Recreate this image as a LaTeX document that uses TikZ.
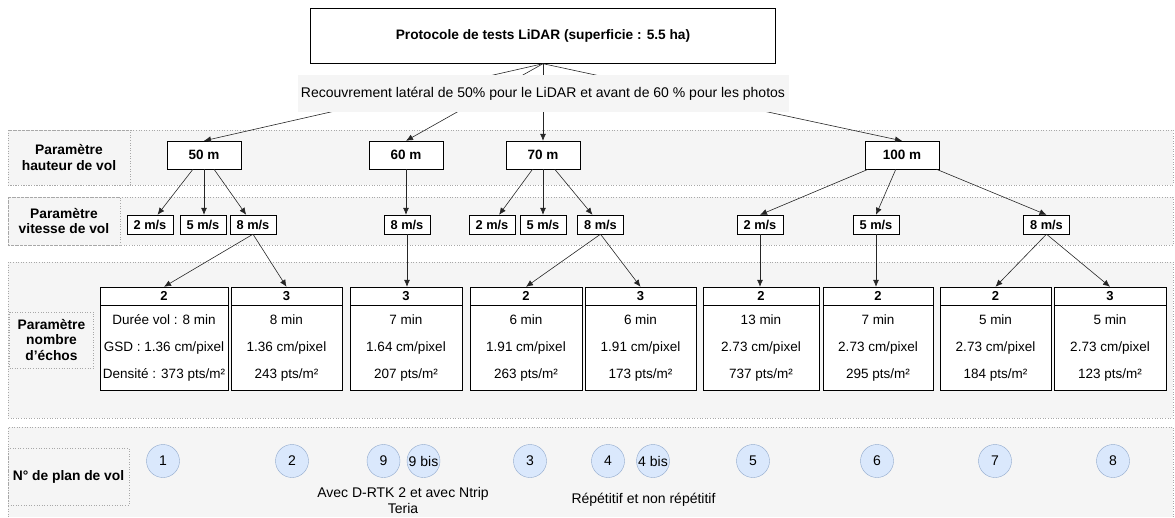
\documentclass[tikz,border=0pt]{standalone}
\usepackage{fontspec}
\setmainfont{Liberation Sans}
\usetikzlibrary{arrows.meta,positioning}

\definecolor{lanegray}{HTML}{F5F5F5}
\definecolor{lanedot}{HTML}{A8A8A8}
\definecolor{planfill}{HTML}{DAE8FC}
\definecolor{plandraw}{HTML}{8FA8CC}

\tikzset{
	lane/.style={fill=lanegray, draw=lanedot, dotted, line width=0.6pt},
	lanelabel/.style={draw=lanedot, dotted, line width=0.6pt, align=center, inner sep=0pt,
		font=\fontsize{13.8}{15.5}\selectfont\bfseries},
	hbox/.style={draw, fill=white, minimum width=74pt, minimum height=28pt, inner sep=0pt,
		font=\fontsize{13.5}{15}\selectfont\bfseries},
	vbox/.style={draw, fill=white, minimum width=46pt, minimum height=19pt, inner sep=0pt,
		font=\fontsize{12.8}{14}\selectfont\bfseries},
	hdr/.style={draw, fill=white, minimum height=18pt, inner sep=0pt,
		font=\fontsize{13}{14}\selectfont\bfseries},
	cell/.style={draw, fill=white, minimum height=85pt, inner sep=0pt, align=center,
		font=\fontsize{13.5}{27}\selectfont},
	plan/.style={circle, draw=plandraw, fill=planfill, minimum size=33pt, inner sep=0pt,
		font=\fontsize{14}{16}\selectfont},
	note/.style={align=center, inner sep=0pt, font=\fontsize{14}{15.5}\selectfont},
	arr/.style={-{Latex[length=7pt,width=6pt]}, line width=0.6pt, draw=black!85},
}

\begin{document}
\begin{tikzpicture}[x=1pt, y=-1pt]
	\useasboundingbox (0,0) rectangle (1175,517);

	% lanes
	\draw[lane] (8,130) rectangle (1173,185);
	\draw[lane] (8,197) rectangle (1173,245);
	\draw[lane] (8,262) rectangle (1173,418);
	\fill[lanegray] (8,427) rectangle (1173,517);
	\draw[lane, fill=none] (8,517) -- (8,427) -- (1173,427) -- (1173,517);

	\node[lanelabel, minimum width=122pt, minimum height=55pt] (l1) at (69,157.5) {Paramètre\\hauteur de vol};
	\node[lanelabel, minimum width=112pt, minimum height=48pt] (l2) at (64,221) {Paramètre\\vitesse de vol};
	\node[lanelabel, minimum width=84pt, minimum height=56pt] (l3) at (51.5,340) {Paramètre\\nombre\\d'échos};
	\node[lanelabel, minimum width=121pt, minimum height=57pt] (l4) at (68.5,476.5) {N° de plan de vol};

	% protocole
	\node[draw, fill=white, minimum width=465pt, minimum height=55pt,
		font=\fontsize{13.7}{15}\selectfont\bfseries] (top) at (543,36) {Protocole de tests LiDAR (superficie : 5.5 ha)};

	% hauteurs
	\node[hbox] (h50) at (204,155) {50 m};
	\node[hbox] (h60) at (406,155) {60 m};
	\node[hbox] (h70) at (543,155) {70 m};
	\node[hbox] (h100) at (902,155) {100 m};

	\draw[arr] (top.south) -- (h50.north);
	\draw[arr] (top.south) -- (h60.north);
	\draw[arr] (top.south) -- (h70.north);
	\draw[arr] (top.south) -- (h100.north);

	\node[fill=lanegray, minimum width=491pt, minimum height=37pt, inner sep=0pt,
		font=\fontsize{14}{16}\selectfont] (sub) at (543,93.5) {Recouvrement latéral de 50\% pour le LiDAR et avant de 60 \% pour les photos};

	% vitesses
	\node[vbox] (v50a) at (150,224.5) {2 m/s};
	\node[vbox] (v50b) at (203,224.5) {5 m/s};
	\node[vbox] (v50c) at (253,224.5) {8 m/s};
	\node[vbox] (v60) at (407,224.5) {8 m/s};
	\node[vbox] (v70a) at (492,224.5) {2 m/s};
	\node[vbox] (v70b) at (543,224.5) {5 m/s};
	\node[vbox] (v70c) at (600.5,224.5) {8 m/s};
	\node[vbox] (v100a) at (760,224.5) {2 m/s};
	\node[vbox] (v100b) at (876,224.5) {5 m/s};
	\node[vbox] (v100c) at (1046.5,224.5) {8 m/s};

	\draw[arr] (h50) -- (v50a);
	\draw[arr] (h50) -- (h50 |- v50b.north);
	\draw[arr] (h50) -- (v50c);
	\draw[arr] (h60) -- (h60 |- v60.north);
	\draw[arr] (h70) -- (v70a);
	\draw[arr] (h70) -- (v70b);
	\draw[arr] (h70) -- (v70c);
	\draw[arr] (h100) -- (v100a.north);
	\draw[arr] (h100) -- (v100b.north);
	\draw[arr] (h100) -- (v100c.north);

	% nombre d'echos
	\node[hdr, minimum width=128.5pt] (e1) at (164,296) {2};
	\node[cell, minimum width=128.5pt, below=0pt of e1] (c1) {Durée vol : 8 min\\GSD : 1.36 cm/pixel\\Densité : 373 pts/m²};
	\node[hdr, minimum width=111pt] (e2) at (286.5,296) {3};
	\node[cell, minimum width=111pt, below=0pt of e2] (c2) {8 min\\1.36 cm/pixel\\243 pts/m²};
	\node[hdr, minimum width=112pt] (e3) at (406,296) {3};
	\node[cell, minimum width=112pt, below=0pt of e3] (c3) {7 min\\1.64 cm/pixel\\207 pts/m²};
	\node[hdr, minimum width=112pt] (e4) at (526,296) {2};
	\node[cell, minimum width=112pt, below=0pt of e4] (c4) {6 min\\1.91 cm/pixel\\263 pts/m²};
	\node[hdr, minimum width=111pt] (e5) at (640.5,296) {3};
	\node[cell, minimum width=111pt, below=0pt of e5] (c5) {6 min\\1.91 cm/pixel\\173 pts/m²};
	\node[hdr, minimum width=116pt] (e6) at (761,296) {2};
	\node[cell, minimum width=116pt, below=0pt of e6] (c6) {13 min\\2.73 cm/pixel\\737 pts/m²};
	\node[hdr, minimum width=110pt] (e7) at (878,296) {2};
	\node[cell, minimum width=110pt, below=0pt of e7] (c7) {7 min\\2.73 cm/pixel\\295 pts/m²};
	\node[hdr, minimum width=111pt] (e8) at (995.5,296) {2};
	\node[cell, minimum width=111pt, below=0pt of e8] (c8) {5 min\\2.73 cm/pixel\\184 pts/m²};
	\node[hdr, minimum width=112pt] (e9) at (1110,296) {3};
	\node[cell, minimum width=112pt, below=0pt of e9] (c9) {5 min\\2.73 cm/pixel\\123 pts/m²};

	\draw[arr] (v50c.south) -- (e1.north);
	\draw[arr] (v50c.south) -- (e2.north);
	\draw[arr] (v60) -- (v60 |- e3.north);
	\draw[arr] (v70c.south) -- (e4.north);
	\draw[arr] (v70c.south) -- (e5.north);
	\draw[arr] (v100a) -- (v100a |- e6.north);
	\draw[arr] (v100b) -- (v100b |- e7.north);
	\draw[arr] (v100c.south) -- (e8.north);
	\draw[arr] (v100c.south) -- (e9.north);

	% plans de vol
	\node[plan] (p1) at (163,461) {1};
	\node[plan] (p2) at (292,461) {2};
	\node[plan] (p9) at (383.5,461) {9};
	\node[plan] (p9b) at (423.5,461) {9 bis};
	\node[plan] (p3) at (530,461) {3};
	\node[plan] (p4) at (608,461) {4};
	\node[plan] (p4b) at (653,461) {4 bis};
	\node[plan] (p5) at (753,461) {5};
	\node[plan] (p6) at (877,461) {6};
	\node[plan] (p7) at (995,461) {7};
	\node[plan] (p8) at (1113,461) {8};

	\node[note] (n9) at (403,500.5) {Avec D-RTK 2 et avec Ntrip\\Teria};
	\node[note] (n4) at (643.5,500) {Répétitif et non répétitif};
\end{tikzpicture}
\end{document}
